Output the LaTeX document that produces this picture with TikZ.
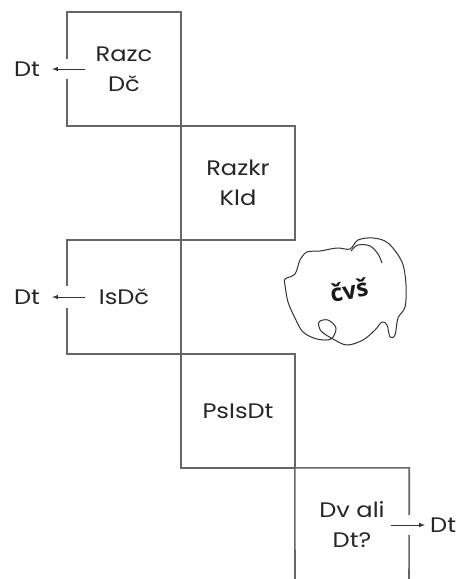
\documentclass[tikz,border=0pt]{standalone}
\usepackage{fontspec}
\setmainfont{Poppins}[FakeStretch=1.15]
\newfontfamily\cloudfont{Open Sans}
\usetikzlibrary{positioning,arrows}
\tikzset{
stepbox/.style={
  minimum width=114pt,
  minimum height=114pt,
  inner sep=0pt,
  align=center,
  text=black!85,
  font=\fontsize{21}{30}\selectfont
  },
outlbl/.style={
  inner sep=2pt,
  text=black!85,
  font=\fontsize{21}{30}\selectfont
  },
wall/.style={line width=1.6pt, draw=black!60},
flow/.style={->, line width=1pt, draw=black!80},
cloudline/.style={line width=1pt, draw=black!80}
}

\begin{document}
\begin{tikzpicture}[>=latex, x=1pt, y=-1pt]
\useasboundingbox (0,0) rectangle (466,579);

\node[stepbox] (razc) at (124,69) {Razc\\Dč};
\node[stepbox] (razkr) at (238,183) {Razkr\\Kld};
\node[stepbox] (isdc) at (124,297) {IsDč};
\node[stepbox] (psisdt) at (238,411) {PsIsDt};
\node[stepbox] (dvali) at (352,525) {Dv ali\\Dt?};

\node[outlbl] (dt1) at (27,69) {Dt};
\node[outlbl] (dt3) at (27,297) {Dt};
\node[outlbl, anchor=west] (dt5) at (428,525) {Dt};

\coordinate (dvbl) at (295,579);
\coordinate (dvbr) at (409,579);

\draw[wall] ([yshift=10pt]razc.west) |- (razc.north east) |- (razc.south west)
  -- ([yshift=-10pt]razc.west);
\draw[wall] (razkr.north west) rectangle (razkr.south east);
\draw[wall] ([yshift=11pt]isdc.west) |- (isdc.north east) |- (isdc.south west)
  -- ([yshift=-11pt]isdc.west);
\draw[wall] (psisdt.north west) rectangle (psisdt.south east);
\draw[wall] (dvbl) -- (dvali.north west) -- (dvali.north east)
  -- ([yshift=10pt]dvali.east);
\draw[wall] ([yshift=-10pt]dvali.east) -- (dvbr);

\draw[flow, shorten >=10pt] ([xshift=18pt]razc.west) -- (dt1);
\draw[flow, shorten >=10pt] ([xshift=18pt]isdc.west) -- (dt3);
\draw[flow, shorten >=3pt] ([xshift=-18pt]dvali.east) -- (dt5);

\draw[cloudline] plot[smooth cycle, tension=0.55] coordinates {
  (295,274) (300,260) (307,252) (320,251) (337,248) (350,249)
  (358,240) (373,238) (388,243) (402,262) (406,285) (405,307)
  (398,318) (395,335) (390,337) (387,325) (382,322) (375,330)
  (363,340) (347,345) (333,339) (321,331) (319,322) (328,320)
  (336,328) (331,339) (317,339) (303,332) (295,318) (288,302)
  (285,285) (285,279)};
\draw[cloudline] plot[smooth, tension=0.6] coordinates {
  (351,251) (358,245) (370,246) (378,254) (382,263)};
\node[rotate=10, text=black!90] (cvs) at (349,290)
  {\cloudfont\fontsize{24}{28}\selectfont\bfseries čvš};
\end{tikzpicture}
\end{document}
